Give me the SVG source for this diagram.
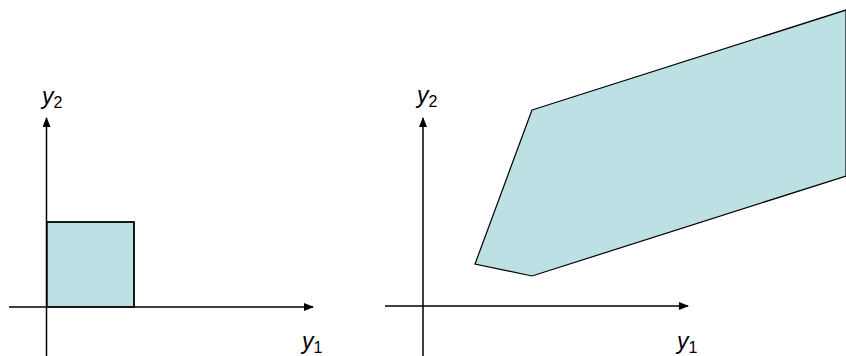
<svg xmlns="http://www.w3.org/2000/svg" width="846" height="356" viewBox="0 0 846 356">
<style>
.ax{stroke:#000;stroke-width:1.5;fill:none}
.reg{fill:#bce0e3;stroke:#000;stroke-width:1.2}
.lbl{font-family:"Liberation Sans",Arial,sans-serif;font-size:23px;fill:#000}
.it{font-style:italic}
.sub{font-size:16px}
</style>
<defs>
<marker id="ah" markerWidth="10" markerHeight="8" refX="9" refY="4" orient="auto" markerUnits="userSpaceOnUse">
<path d="M0,0 L10,4 L0,8 Z" fill="#000"/>
</marker>
</defs>
<g id="region-left">
<rect class="reg" x="47" y="222" width="87" height="85" stroke="none"/>
<path d="M47,222 H134 V307" class="ax" stroke-width="1.2"/>
</g>
<g id="region-right">
<polygon class="reg" points="532,110 846,10 846,176 532,276 475,264"/>
</g>
<g id="connectors">
<line class="ax" x1="46.5" y1="356" x2="46.5" y2="118" marker-end="url(#ah)"/>
<line class="ax" x1="9" y1="307" x2="313" y2="307" marker-end="url(#ah)"/>
<line class="ax" x1="423" y1="356" x2="423" y2="118" marker-end="url(#ah)"/>
<line class="ax" x1="385" y1="306" x2="688" y2="306" marker-end="url(#ah)"/>
</g>
<g id="labels">
<text class="lbl" x="42" y="104"><tspan class="it">y</tspan><tspan class="sub" dy="4">2</tspan></text>
<text class="lbl" x="302" y="349"><tspan class="it">y</tspan><tspan class="sub" dy="4">1</tspan></text>
<text class="lbl" x="417" y="103"><tspan class="it">y</tspan><tspan class="sub" dy="4">2</tspan></text>
<text class="lbl" x="677" y="349"><tspan class="it">y</tspan><tspan class="sub" dy="4">1</tspan></text>
<text x="781" y="365" font-family="Liberation Sans,Arial,sans-serif" font-size="13" fill="#999">50</text>
</g>
</svg>
